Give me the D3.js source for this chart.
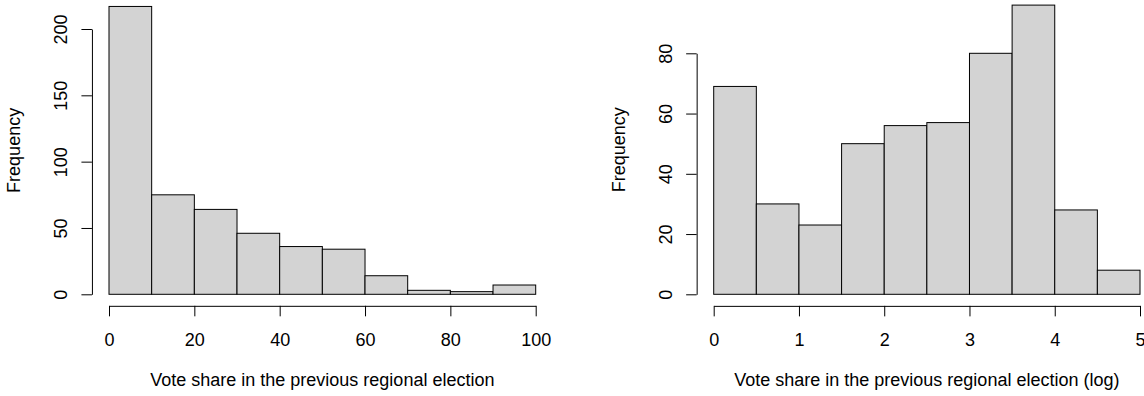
<!DOCTYPE html>
<html>
<head>
<meta charset="utf-8">
<script src="https://cdn.jsdelivr.net/npm/d3@7"></script>
<style>
  html, body { margin: 0; padding: 0; background: #fff; }
  svg { display: block; }
  text { font-family: "Liberation Sans", Arial, sans-serif; font-size: 18px; fill: #000; }
</style>
</head>
<body>
<svg id="chart" width="1144" height="396"></svg>
<script>
// ---- data ----
const leftBreaks = [0, 10, 20, 30, 40, 50, 60, 70, 80, 90, 100];
const leftCounts = [217, 75, 64, 46, 36, 34, 14, 3, 2, 7];
const leftXTicks = [0, 20, 40, 60, 80, 100];
const leftYTicks = [0, 50, 100, 150, 200];
const leftXLabel = "Vote share in the previous regional election";

const rightBreaks = [0, 0.5, 1, 1.5, 2, 2.5, 3, 3.5, 4, 4.5, 5];
const rightCounts = [69, 30, 23, 50, 56, 57, 80, 96, 28, 8];
const rightXTicks = [0, 1, 2, 3, 4, 5];
const rightYTicks = [0, 20, 40, 60, 80];
const rightXLabel = "Vote share in the previous regional election (log)";

const yLabel = "Frequency";

const svg = d3.select("#chart");

function panel(cfg) {
  const { breaks, counts, xTicks, yTicks, xLabel, xRange, yRange } = cfg;
  const xMin = breaks[0], xMax = breaks[breaks.length - 1];
  const yMaxTick = yTicks[yTicks.length - 1];
  const x = d3.scaleLinear().domain([xMin, xMax]).range(xRange);
  const y = d3.scaleLinear().domain([0, yMaxTick]).range(yRange);
  const cMax = d3.max(counts);
  const xPad = 0.04 * (xMax - xMin);
  const axisX = x(xMin - xPad);          // left edge of plot region
  const axisY = y(-0.04 * cMax);         // bottom edge of plot region
  const plotTop = y(cMax * 1.04);

  const g = svg.append("g");

  // bars
  const bins = counts.map((c, i) => ({ x0: breaks[i], x1: breaks[i + 1], c }));
  g.selectAll("rect.bar").data(bins).enter().append("rect")
    .attr("class", "bar")
    .attr("x", d => x(d.x0))
    .attr("width", d => x(d.x1) - x(d.x0))
    .attr("y", d => y(d.c))
    .attr("height", d => y(0) - y(d.c))
    .attr("fill", "#D3D3D3")
    .attr("stroke", "#000")
    .attr("stroke-width", 1);

  // y axis
  const ya = g.append("g")
    .attr("transform", `translate(${axisX},0)`)
    .call(d3.axisLeft(y).tickValues(yTicks).tickSize(10.5).tickSizeOuter(0).tickFormat(d3.format("d")));
  ya.select(".domain").attr("stroke", "#000").attr("stroke-width", 1);
  ya.selectAll(".tick line").attr("stroke", "#000");
  ya.selectAll(".tick text")
    .attr("x", null).attr("dy", null)
    .attr("transform", "translate(-25,0) rotate(-90)")
    .attr("text-anchor", "middle")
    .style("font-family", "Liberation Sans, Arial, sans-serif")
    .style("font-size", "18px")
    .attr("fill", "#000");

  // x axis
  const xa = g.append("g")
    .attr("transform", `translate(0,${axisY})`)
    .call(d3.axisBottom(x).tickValues(xTicks).tickSize(10.5).tickSizeOuter(0).tickFormat(d3.format("d")));
  xa.select(".domain").attr("stroke", "#000").attr("stroke-width", 1);
  xa.selectAll(".tick line").attr("stroke", "#000");
  xa.selectAll(".tick text")
    .attr("y", 40).attr("dy", null)
    .attr("text-anchor", "middle")
    .style("font-family", "Liberation Sans, Arial, sans-serif")
    .style("font-size", "18px")
    .attr("fill", "#000");

  // axis titles
  const xCenter = (x(xMin - xPad) + x(xMax + xPad)) / 2;
  g.append("text")
    .attr("x", xCenter).attr("y", 386)
    .attr("text-anchor", "middle")
    .text(xLabel);

  const yCenter = (axisY + plotTop) / 2;
  g.append("text")
    .attr("transform", `translate(${axisX - 71.5},${yCenter}) rotate(-90)`)
    .attr("text-anchor", "middle")
    .text(yLabel);
}

panel({
  breaks: leftBreaks, counts: leftCounts, xTicks: leftXTicks, yTicks: leftYTicks,
  xLabel: leftXLabel, xRange: [109, 535.7], yRange: [294.3, 29]
});
panel({
  breaks: rightBreaks, counts: rightCounts, xTicks: rightXTicks, yTicks: rightYTicks,
  xLabel: rightXLabel, xRange: [713.7, 1140], yRange: [294.3, 53.3]
});
</script>
</body>
</html>
